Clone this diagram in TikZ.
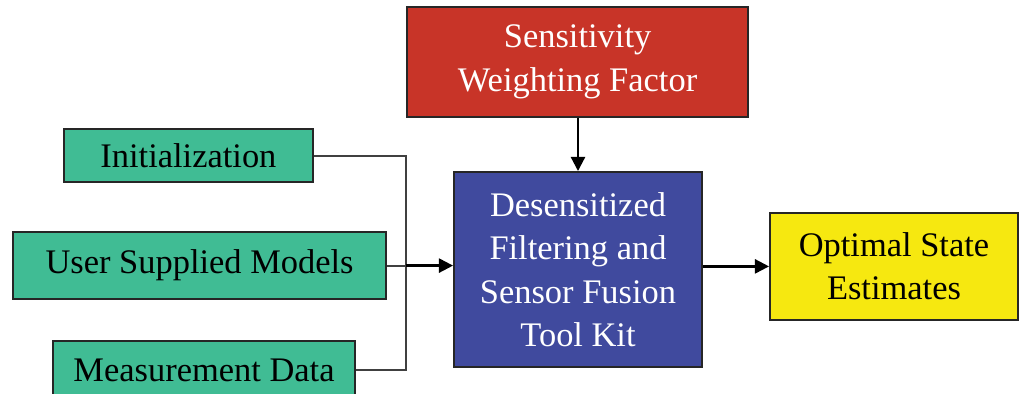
\documentclass[tikz,border=0pt]{standalone}
\usepackage{fontspec}
\setmainfont{Liberation Serif}
\usepackage{xcolor}
\usetikzlibrary{arrows.meta, positioning}

\definecolor{boxgreen}{RGB}{64,188,148}
\definecolor{boxred}{RGB}{200,52,40}
\definecolor{boxblue}{RGB}{64,74,158}
\definecolor{boxyellow}{RGB}{246,232,16}

\begin{document}
\begin{tikzpicture}[
  box/.style  = {draw=black!85, line width=1.4pt, align=center, inner sep=2pt,
                 font=\fontsize{24.5}{31}\selectfont},
  inbox/.style = {box, fill=boxgreen, minimum height=1.4cm},
  conn/.style = {draw=black!75, line width=1.3pt},
  arr/.style  = {-{Triangle[length=10pt, width=10pt]}, line width=1.6pt},
]
  \clip (0,0) rectangle (25.6,-9.85);

  \node[inbox, minimum width=6.23cm, minimum height=1.33cm] (init)   at (4.71,-3.89) {Initialization};
  \node[inbox, minimum width=9.33cm, minimum height=1.68cm] (models) at (4.99,-6.64) {User Supplied Models};
  \node[inbox, minimum width=7.55cm, minimum height=1.45cm] (meas)   at (5.10,-9.25) {Measurement Data};

  \node[box, fill=boxred, text=white, minimum width=8.53cm, minimum height=2.75cm]
      (weight) at (14.44,-1.55) {Sensitivity\\Weighting Factor};
  \node[box, fill=boxblue, text=white, minimum width=6.2cm, minimum height=4.88cm]
      (kit) at (14.45,-6.74) {Desensitized\\Filtering and\\Sensor Fusion\\Tool Kit};
  \node[box, fill=boxyellow, minimum width=6.2cm, minimum height=2.68cm]
      (est) at (22.35,-6.66) {Optimal State\\Estimates};

  % inputs merge into one bus
  \coordinate (bus) at (10.15,0);
  \draw[conn] (init.east) -- (init.east -| bus) -- (meas.east -| bus) -- (meas.east);
  \draw[conn] (models.east) -- (models.east -| bus);
  \draw[arr] (models.east -| bus) -- (kit.west |- models.east);

  \draw[arr] (weight.south -| kit.north) -- (kit.north);
  \draw[arr] (kit.east |- est.west) -- (est.west);
\end{tikzpicture}
\end{document}
